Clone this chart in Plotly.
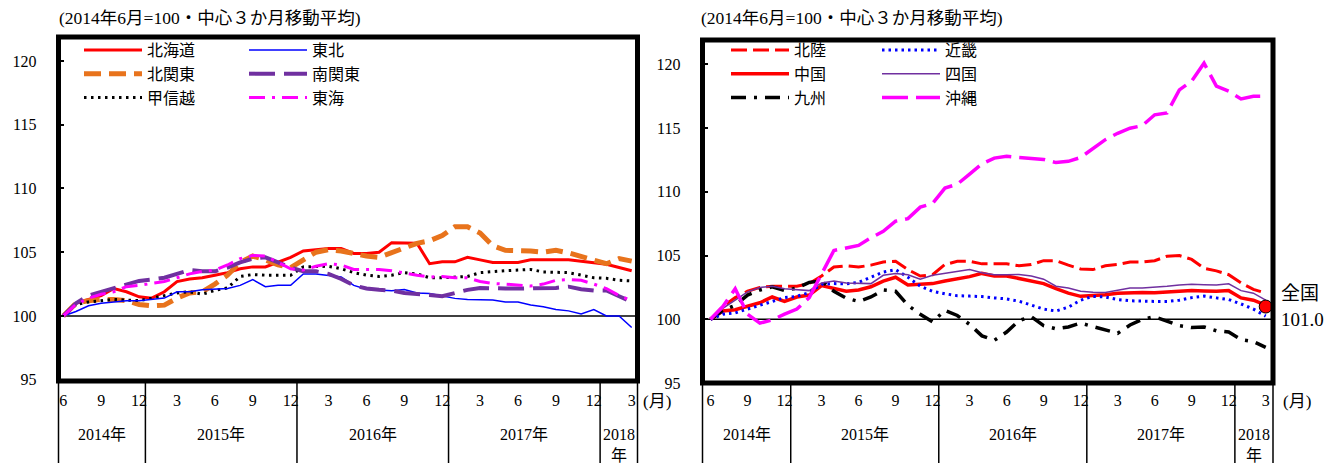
import plotly.graph_objects as go

# ---------------- data ----------------
months = [6, 7, 8, 9, 10, 11, 12,
          1, 2, 3, 4, 5, 6, 7, 8, 9, 10, 11, 12,
          1, 2, 3, 4, 5, 6, 7, 8, 9, 10, 11, 12,
          1, 2, 3, 4, 5, 6, 7, 8, 9, 10, 11, 12,
          1, 2, 3]
years = [2014] * 7 + [2015] * 12 + [2016] * 12 + [2017] * 12 + [2018] * 3
idx = list(range(len(months)))

hokkaido = [100.0, 101.0, 101.3, 101.6, 102.15, 101.9, 101.5, 101.4, 101.9, 102.7,
            102.9, 103.0, 103.2, 103.4, 103.7, 103.85, 103.85, 104.2, 104.6, 105.1,
            105.2, 105.3, 105.3, 104.9, 104.9, 105.0, 105.75, 105.7, 105.7, 104.1,
            104.25, 104.25, 104.6, 104.4, 104.2, 104.2, 104.2, 104.4, 104.4, 104.4,
            104.4, 104.3, 104.2, 104.05, 103.8, 103.55]
tohoku = [100.0, 100.35, 100.8, 101.0, 101.1, 101.2, 101.2, 101.3, 101.4, 101.9,
          101.9, 102.05, 102.1, 102.15, 102.4, 102.85, 102.3, 102.4, 102.4, 103.3,
          103.3, 103.2, 103.05, 102.4, 102.1, 102.03, 101.98, 102.08, 101.8, 101.77,
          101.56, 101.38, 101.3, 101.3, 101.25, 101.1, 101.1, 100.86, 100.73, 100.5,
          100.4, 100.16, 100.5, 100.0, 100.0, 99.1]
kitakanto = [100.0, 101.0, 101.2, 101.3, 101.3, 101.2, 100.9, 100.8, 100.85, 101.4,
             101.8, 101.9, 102.5, 103.2, 104.2, 104.7, 104.4, 104.0, 103.8, 104.4,
             105.0, 105.2, 105.1, 104.9, 104.7, 104.6, 105.0, 105.4, 105.7, 105.9,
             106.3, 107.0, 107.0, 106.5, 105.5, 105.15, 105.15, 105.1, 105.0, 105.15,
             104.95, 104.7, 104.35, 104.1, 104.5, 104.3]
minamikanto = [100.0, 101.0, 101.6, 101.9, 102.2, 102.5, 102.75, 102.85, 103.0, 103.3,
               103.6, 103.5, 103.5, 103.8, 104.2, 104.5, 104.6, 104.2, 103.8, 103.5,
               103.5, 103.3, 102.9, 102.4, 102.15, 102.05, 102.0, 101.8, 101.75, 101.65,
               101.55, 101.8, 102.05, 102.2, 102.15, 102.15, 102.15, 102.15, 102.15, 102.2,
               102.3, 102.1, 102.0, 102.0, 101.55, 101.1]
koshinetsu = [100.0, 100.9, 101.1, 101.2, 101.3, 101.25, 101.2, 101.4, 101.6, 101.8,
              101.9, 101.7, 102.0, 102.2, 103.1, 103.25, 103.2, 103.2, 103.2, 103.85,
              103.9, 103.9, 103.7, 103.4, 103.2, 103.1, 103.2, 103.4, 103.3, 103.0,
              103.0, 103.05, 103.1, 103.4, 103.5, 103.55, 103.6, 103.65, 103.45, 103.45,
              103.4, 103.2, 103.0, 102.95, 102.8, 102.75]
tokai = [100.0, 100.9, 101.4, 101.7, 101.9, 102.3, 102.4, 102.55, 102.7, 103.0,
         103.3, 103.5, 103.6, 104.0, 104.5, 104.75, 104.7, 104.2, 103.7, 103.6,
         103.9, 104.1, 104.0, 103.65, 103.65, 103.65, 103.55, 103.35, 103.2, 103.05,
         103.1, 103.0, 103.0, 102.7, 102.55, 102.5, 102.4, 102.35, 102.5, 102.8,
         102.85, 102.8, 102.5, 102.15, 101.6, 101.2]

hokuriku = [100.0, 101.0, 101.7, 102.2, 102.5, 102.6, 102.6, 102.6, 102.8, 103.4,
            104.1, 104.2, 104.1, 104.25, 104.5, 104.55, 103.9, 103.4, 103.5, 104.3,
            104.55, 104.55, 104.35, 104.35, 104.35, 104.2, 104.3, 104.6, 104.6, 104.25,
            103.95, 103.9, 104.2, 104.3, 104.5, 104.5, 104.6, 104.95, 105.0, 104.7,
            104.0, 103.8, 103.5, 102.85, 102.35, 102.05]
kinki = [100.0, 100.4, 100.5, 100.8, 101.1, 101.4, 101.7, 101.8, 102.1, 102.75,
         102.8, 102.78, 102.9, 103.3, 103.7, 103.9, 103.3, 102.6, 102.2, 102.0,
         101.85, 101.82, 101.78, 101.68, 101.6, 101.42, 101.1, 100.8, 100.65, 100.95,
         101.5, 101.8, 101.75, 101.55, 101.45, 101.4, 101.4, 101.4, 101.5, 101.7,
         101.82, 101.68, 101.55, 101.2, 100.8, 100.25]
chugoku = [100.0, 100.65, 100.75, 101.0, 101.3, 101.75, 101.4, 101.75, 101.9, 102.65,
           102.4, 102.2, 102.3, 102.55, 103.0, 103.3, 102.7, 102.75, 102.8, 103.0,
           103.15, 103.35, 103.6, 103.4, 103.4, 103.2, 103.05, 102.8, 102.4, 102.05,
           101.8, 101.85, 101.92, 102.05, 102.1, 102.1, 102.08, 102.12, 102.18, 102.25,
           102.22, 102.2, 102.25, 101.68, 101.5, 101.12]
shikoku = [100.0, 100.85, 101.5, 102.15, 102.5, 102.6, 102.4, 102.3, 102.25, 102.85,
           103.0, 102.85, 102.8, 102.8, 103.45, 103.6, 103.5, 103.15, 103.45, 103.6,
           103.7, 103.9, 103.65, 103.5, 103.5, 103.52, 103.4, 103.15, 102.6, 102.45,
           102.2, 102.12, 102.1, 102.3, 102.45, 102.45, 102.5, 102.6, 102.7, 102.75,
           102.72, 102.7, 102.78, 102.25, 102.05, 101.5]
kyushu = [100.0, 100.7, 101.1, 101.9, 102.3, 102.55, 102.25, 102.45, 102.9, 103.0,
          102.2, 101.65, 101.4, 101.75, 102.3, 102.2, 101.1, 100.4, 99.8, 100.7,
          100.3, 99.6, 98.7, 98.35, 99.0, 99.9, 100.2, 99.5, 99.25, 99.4,
          99.7, 99.45, 99.2, 98.9, 99.55, 100.0, 100.2, 99.85, 99.5, 99.35,
          99.4, 99.1, 99.0, 98.4, 98.25, 97.8]
okinawa = [100.0, 101.0, 102.4, 100.4, 99.7, 99.95, 100.4, 100.8, 101.7, 103.6,
           105.4, 105.6, 105.8, 106.4, 106.9, 107.7, 107.9, 108.8, 109.1, 110.3,
           110.6, 111.4, 112.2, 112.65, 112.8, 112.7, 112.6, 112.55, 112.3, 112.4,
           112.7, 113.4, 114.1, 114.6, 115.0, 115.2, 116.05, 116.2, 118.0, 118.7,
           120.1, 118.3, 117.9, 117.3, 117.5, 117.5]
zenkoku_last = 101.0

title_text = "(2014年6月=100・中心３か月移動平均)"
y_ticks = [95, 100, 105, 110, 115, 120]

# ---------------- style ----------------
W, H = 1336, 463
SERIF = "Liberation Serif, Noto Sans CJK JP"
CJK = "Noto Sans CJK JP, Liberation Serif"
RED = "#FF0000"
BLUE = "#0000FF"
ORANGE = "#E8731C"
PURPLE = "#7030A0"
MAGENTA = "#FF00FF"
BLACK = "#000000"


def px_x(p):
    return p / W


def px_y(p):
    return 1 - p / H


L_dom_x = [px_x(58.5), px_x(637.5)]
L_dom_y = [px_y(381), px_y(37)]
R_dom_x = [px_x(702.5), px_x(1273)]
R_dom_y = [px_y(383), px_y(40)]
L_xr = [-0.38, 45.46]
R_xr = [-0.65, 45.59]
L_yr = [94.9, 121.88]
R_yr = [95.0, 121.92]

fig = go.Figure()

left_series = [
    ("北海道", hokkaido, RED, 3, "solid", "legend"),
    ("北関東", kitakanto, ORANGE, 5, "17px,8px", "legend"),
    ("甲信越", koshinetsu, BLACK, 3, "2.5px,4.5px", "legend"),
    ("東北", tohoku, BLUE, 1.5, "solid", "legend2"),
    ("南関東", minamikanto, PURPLE, 4, "26px,9px", "legend2"),
    ("東海", tokai, MAGENTA, 3, "16px,7px,3px,7px", "legend2"),
]
right_series = [
    ("北陸", hokuriku, RED, 3, "16px,6px", "legend3"),
    ("中国", chugoku, RED, 3.5, "solid", "legend3"),
    ("九州", kyushu, BLACK, 3.5, "15px,8px,3px,8px", "legend3"),
    ("近畿", kinki, BLUE, 3, "2.5px,4px", "legend4"),
    ("四国", shikoku, PURPLE, 1.5, "solid", "legend4"),
    ("沖縄", okinawa, MAGENTA, 3.5, "26px,8px", "legend4"),
]

for name, vals, col, w, dash, lg in left_series:
    fig.add_trace(go.Scatter(x=idx, y=vals, name=name, mode="lines",
                             line=dict(color=col, width=w, dash=dash),
                             legend=lg, xaxis="x", yaxis="y"))
for name, vals, col, w, dash, lg in right_series:
    fig.add_trace(go.Scatter(x=idx, y=vals, name=name, mode="lines",
                             line=dict(color=col, width=w, dash=dash),
                             legend=lg, xaxis="x2", yaxis="y2"))
fig.add_trace(go.Scatter(x=[idx[-1]], y=[zenkoku_last], mode="markers",
                         marker=dict(color=RED, size=13, line=dict(color=BLACK, width=1)),
                         showlegend=False, xaxis="x2", yaxis="y2"))

tick_idx = [i for i in idx if months[i] % 3 == 0]
tick_txt = [str(months[i]) for i in tick_idx]

axis_font = dict(family=SERIF, size=16, color=BLACK)


def xaxis_cfg(dom, rng):
    return dict(domain=dom, range=rng, showgrid=False, zeroline=False, showline=False,
                tickmode="array", tickvals=tick_idx, ticktext=tick_txt, ticks="",
                tickfont=axis_font, ticklabelstandoff=8, fixedrange=True)


def yaxis_cfg(dom, rng, anchor):
    return dict(domain=dom, range=rng, anchor=anchor, showgrid=False, zeroline=False,
                showline=False, tickmode="array", tickvals=y_ticks,
                ticks="inside", ticklen=5, tickwidth=1.5, tickcolor=BLACK,
                tickfont=axis_font, ticklabelstandoff=21, fixedrange=True)


shapes = []
annotations = []

panels = [("x", "y", L_dom_x, L_dom_y, L_xr, 57, 657),
          ("x2", "y2", R_dom_x, R_dom_y, R_xr, 699, 1297)]
for xa, ya, dx, dy, xr, title_x, month_x in panels:
    shapes.append(dict(type="rect", xref=f"{xa} domain", yref=f"{ya} domain",
                       x0=0, x1=1, y0=0, y1=1, line=dict(color=BLACK, width=5), layer="above"))
    shapes.append(dict(type="line", xref=f"{xa} domain", yref=ya, x0=0, x1=1, y0=100, y1=100,
                       line=dict(color=BLACK, width=1.5), layer="below"))
    dividers = [i + 0.5 for i in idx[:-1] if years[i] != years[i + 1]]
    for d in dividers:
        shapes.append(dict(type="line", xref=xa, yref="paper", x0=d, x1=d, y0=0, y1=dy[0],
                           line=dict(color=BLACK, width=1.5)))
    for e in (0, 1):
        shapes.append(dict(type="line", xref=f"{xa} domain", yref="paper", x0=e, x1=e,
                           y0=0, y1=dy[0], line=dict(color=BLACK, width=1.5)))
    bounds = [xr[0]] + dividers + [xr[1]]
    uniq_years = sorted(set(years))
    for k, yr in enumerate(uniq_years):
        cx = (bounds[k] + bounds[k + 1]) / 2
        txt = f"{yr}年" if yr != uniq_years[-1] else f"{yr}<br>年"
        annotations.append(dict(x=cx, y=px_y(424), xref=xa, yref="paper", text=txt,
                                showarrow=False, xanchor="center", yanchor="top",
                                font=dict(family=SERIF, size=16, color=BLACK)))
    annotations.append(dict(x=px_x(month_x), y=px_y(401), xref="paper", yref="paper",
                            text="(月)", showarrow=False, xanchor="center", yanchor="middle",
                            font=dict(family=SERIF, size=17, color=BLACK)))
    annotations.append(dict(x=px_x(title_x), y=px_y(18), xref="paper", yref="paper",
                            text=title_text, showarrow=False, xanchor="left", yanchor="middle",
                            font=dict(family=SERIF, size=17.5, color=BLACK)))

annotations.append(dict(x=px_x(1279), y=px_y(293), xref="paper", yref="paper",
                        text="全国", showarrow=False, xanchor="left", yanchor="middle",
                        font=dict(family=SERIF, size=19, color=BLACK)))
annotations.append(dict(x=px_x(1279), y=px_y(319), xref="paper", yref="paper",
                        text=f"{zenkoku_last:.1f}", showarrow=False, xanchor="left",
                        yanchor="middle", font=dict(family=SERIF, size=19, color=BLACK)))


def legend_cfg(xp, yp):
    return dict(x=px_x(xp), y=px_y(yp), xanchor="left", yanchor="top",
                bgcolor="rgba(0,0,0,0)", borderwidth=0, itemwidth=58,
                font=dict(family=CJK, size=16, color=BLACK), traceorder="normal",
                tracegroupgap=0, itemclick=False, itemdoubleclick=False)


fig.update_layout(
    width=W, height=H, autosize=False, margin=dict(l=0, r=0, t=0, b=0, autoexpand=False),
    paper_bgcolor="white", plot_bgcolor="white",
    font=dict(family=SERIF, color=BLACK),
    xaxis=xaxis_cfg(L_dom_x, L_xr),
    yaxis=yaxis_cfg(L_dom_y, L_yr, "x"),
    xaxis2=xaxis_cfg(R_dom_x, R_xr),
    yaxis2=yaxis_cfg(R_dom_y, R_yr, "x2"),
    legend=legend_cfg(79, 33),
    legend2=legend_cfg(244, 33),
    legend3=legend_cfg(726, 33),
    legend4=legend_cfg(877, 33),
    shapes=shapes, annotations=annotations,
    showlegend=True,
)

fig.write_html("out.html",
               config={"displayModeBar": False, "responsive": False},
               post_script="document.body.style.margin='0';document.body.style.overflow='hidden';")
